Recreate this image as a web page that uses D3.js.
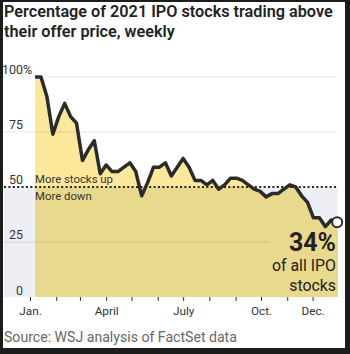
<!DOCTYPE html>
<html>
<head>
<meta charset="utf-8">
<script src="https://cdn.jsdelivr.net/npm/d3@7"></script>
<style>
  body { margin: 0; background: #1c1c1c; }
  svg { display: block; font-family: Roboto, sans-serif; }
</style>
</head>
<body>
<div id="chart"></div>
<script>
// weekly share (%) of 2021 IPO stocks above offer price
const startWeek = new Date(2021, 0, 7)
const endWeek = new Date(2021, 11, 31)
const pctAbove = [100, 100, 91, 74, 82, 88, 82, 79, 62, 67, 71, 56, 60, 57, 57, 59, 61, 57, 46, 52,
                  59, 59, 61, 55, 59, 63, 59, 53, 53, 51, 53, 49, 51, 54, 54, 53, 51, 49, 48, 45.5,
                  47, 47, 49, 51, 50, 46, 43, 36, 36, 32, 35, 34]
const yTicks = [0, 25, 50, 75, 100]
const monthLabels = {0: 'Jan.', 3: 'April', 6: 'July', 9: 'Oct.', 11: 'Dec.'}
const titleLines = ['Percentage of 2021 IPO stocks trading above', 'their offer price, weekly']
const source = 'Source: WSJ analysis of FactSet data'

const width = 350, height = 354
const chart = {left: 4, right: 338, top: 77, bottom: 297}

// scale a text's font size so it spans the wanted width
function fitWidth (sel, target) {
    const w = sel.node().getComputedTextLength()
    const fs = parseFloat(sel.style('font-size'))
    if (w > 0) sel.style('font-size', (fs * target / w) + 'px')
    return parseFloat(sel.style('font-size'))
}

const weeks = d3.timeThursday.range(startWeek, endWeek)
const data = weeks.map((d, i) => ({date: d, value: pctAbove[i]}))

const xScale = d3.scaleTime()
            .domain([new Date(2021, 0, 1), new Date(2021, 11, 31)])
            .range([30, 338])
const yScale = d3.scaleLinear()
            .domain([0, 100])
            .range([chart.bottom, chart.top])

const svg = d3.select('#chart')
            .append('svg')
                .attr('width', width)
                .attr('height', height)

// dark frame of the screenshot
svg.append('rect').attr('width', width).attr('height', height).attr('fill', '#1c1c1c')
svg.append('rect').attr('x', 3).attr('y', 2).attr('width', 342).attr('height', 346).attr('fill', '#fff')

// title
const title = svg.append('text')
    .attr('x', 4)
    .attr('y', 17)
    .style('font-weight', 600)
    .style('font-size', '16px')
    .attr('fill', '#222')
title.selectAll('tspan')
    .data(titleLines)
    .join('tspan')
        .attr('x', 4)
        .attr('dy', (d, i) => i ? 20 : 0)
        .text(d => d)
{
    const t1 = title.select('tspan').node().getComputedTextLength()
    title.style('font-size', (16 * 329 / t1) + 'px')
}

// "more down" band
svg.append('rect')
    .attr('x', chart.left)
    .attr('y', yScale(50))
    .attr('width', chart.right - chart.left)
    .attr('height', chart.bottom - yScale(50))
    .attr('fill', '#eeeff4')

const area = d3.area()
            .x(d => xScale(d.date))
            .y0(yScale(0))
            .y1(d => yScale(d.value))

const defs = svg.append('defs')
defs.append('clipPath').attr('id', 'above')
    .append('rect').attr('x', 0).attr('y', 0).attr('width', width).attr('height', yScale(50))
defs.append('clipPath').attr('id', 'below')
    .append('rect').attr('x', 0).attr('y', yScale(50)).attr('width', width).attr('height', height)

svg.append('path').datum(data).attr('d', area).attr('fill', '#fce89b').attr('clip-path', 'url(#above)')
svg.append('path').datum(data).attr('d', area).attr('fill', '#e9d98c').attr('clip-path', 'url(#below)')

// gridlines
svg.selectAll('.grid')
    .data(yTicks.filter(d => d !== 0 && d !== 50))
    .join('line')
        .attr('class', 'grid')
        .attr('x1', d => d === 100 ? 32 : chart.left)
        .attr('x2', 337)
        .attr('y1', d => yScale(d))
        .attr('y2', d => yScale(d))
        .attr('stroke', 'rgba(0,0,0,0.1)')
        .attr('stroke-width', 1)

// dotted 50% line
svg.append('line')
    .attr('x1', chart.left)
    .attr('x2', chart.right)
    .attr('y1', yScale(50))
    .attr('y2', yScale(50))
    .attr('stroke', '#222')
    .attr('stroke-width', 2)
    .attr('stroke-dasharray', '2 2.4')

// y labels
const yLab = svg.append('g').style('font-size', '12.5px').attr('fill', '#333')
yLab.selectAll('text')
    .data(yTicks)
    .join('text')
        .attr('x', 23)
        .attr('y', d => yScale(d) - (d === 0 ? 2 : 3))
        .attr('text-anchor', 'end')
        .text(d => d)
yLab.append('text').attr('x', 23).attr('y', yScale(100) - 3).text('%')
fitWidth(yLab.select('text:nth-child(2)'), 14)
const yFs = yLab.select('text:nth-child(2)').style('font-size')
yLab.selectAll('text').style('font-size', yFs)

const upText = svg.append('text')
    .attr('x', 35).attr('y', yScale(50) - 4)
    .style('font-size', '12px').attr('fill', '#333')
    .text('More stocks up')
const annFs = fitWidth(upText, 78)
svg.append('text')
    .attr('x', 35).attr('y', yScale(50) + 13)
    .style('font-size', annFs + 'px').attr('fill', '#333')
    .text('More down')

// label background
const last = data[data.length - 1]
svg.append('rect')
    .attr('x', 270).attr('y', 230)
    .attr('width', chart.right - 270).attr('height', chart.bottom - 230)
    .attr('fill', '#e9d98c')

// line
svg.append('path')
    .datum(data)
    .attr('d', d3.line().x(d => xScale(d.date)).y(d => yScale(d.value)))
    .attr('fill', 'none')
    .attr('stroke', '#2b2b2b')
    .attr('stroke-width', 3.5)
    .attr('stroke-linejoin', 'round')

svg.append('circle')
    .attr('cx', xScale(last.date))
    .attr('cy', yScale(last.value))
    .attr('r', 5)
    .attr('fill', '#fff')
    .attr('stroke', '#2b2b2b')
    .attr('stroke-width', 2)

const lab = svg.append('g').attr('text-anchor', 'end').attr('fill', '#222')
const big = lab.append('text').attr('x', 336).attr('y', 251).style('font-size', '25px').style('font-weight', 700)
    .text(d3.format('.0f')(last.value) + '%')
fitWidth(big, 47)
const ofAll = lab.append('text').attr('x', 336).attr('y', 271).style('font-size', '16px').text('of all IPO')
const labFs = fitWidth(ofAll, 64)
lab.append('text').attr('x', 336).attr('y', 291).style('font-size', labFs + 'px').text('stocks')

// x axis
const xAxis = d3.axisBottom(xScale)
            .ticks(d3.timeMonth.every(1))
            .tickSize(4)
            .tickPadding(6)
            .tickFormat(d => monthLabels[d.getMonth()] || '')
const gx = svg.append('g')
    .attr('transform', `translate(0,${chart.bottom})`)
    .call(xAxis)
gx.select('.domain').remove()
gx.selectAll('line').attr('stroke', '#333')
gx.selectAll('text').style('font-family', 'Roboto, sans-serif').style('font-size', '12px').attr('fill', '#333')
const aprilText = gx.selectAll('text').filter(d => d.getMonth() === 3)
fitWidth(aprilText, 24)
gx.selectAll('text').style('font-size', aprilText.style('font-size'))

const src = svg.append('text')
    .attr('x', 4).attr('y', 342)
    .style('font-size', '14px').attr('fill', '#666')
    .text(source)
fitWidth(src, 233)
</script>
</body>
</html>
